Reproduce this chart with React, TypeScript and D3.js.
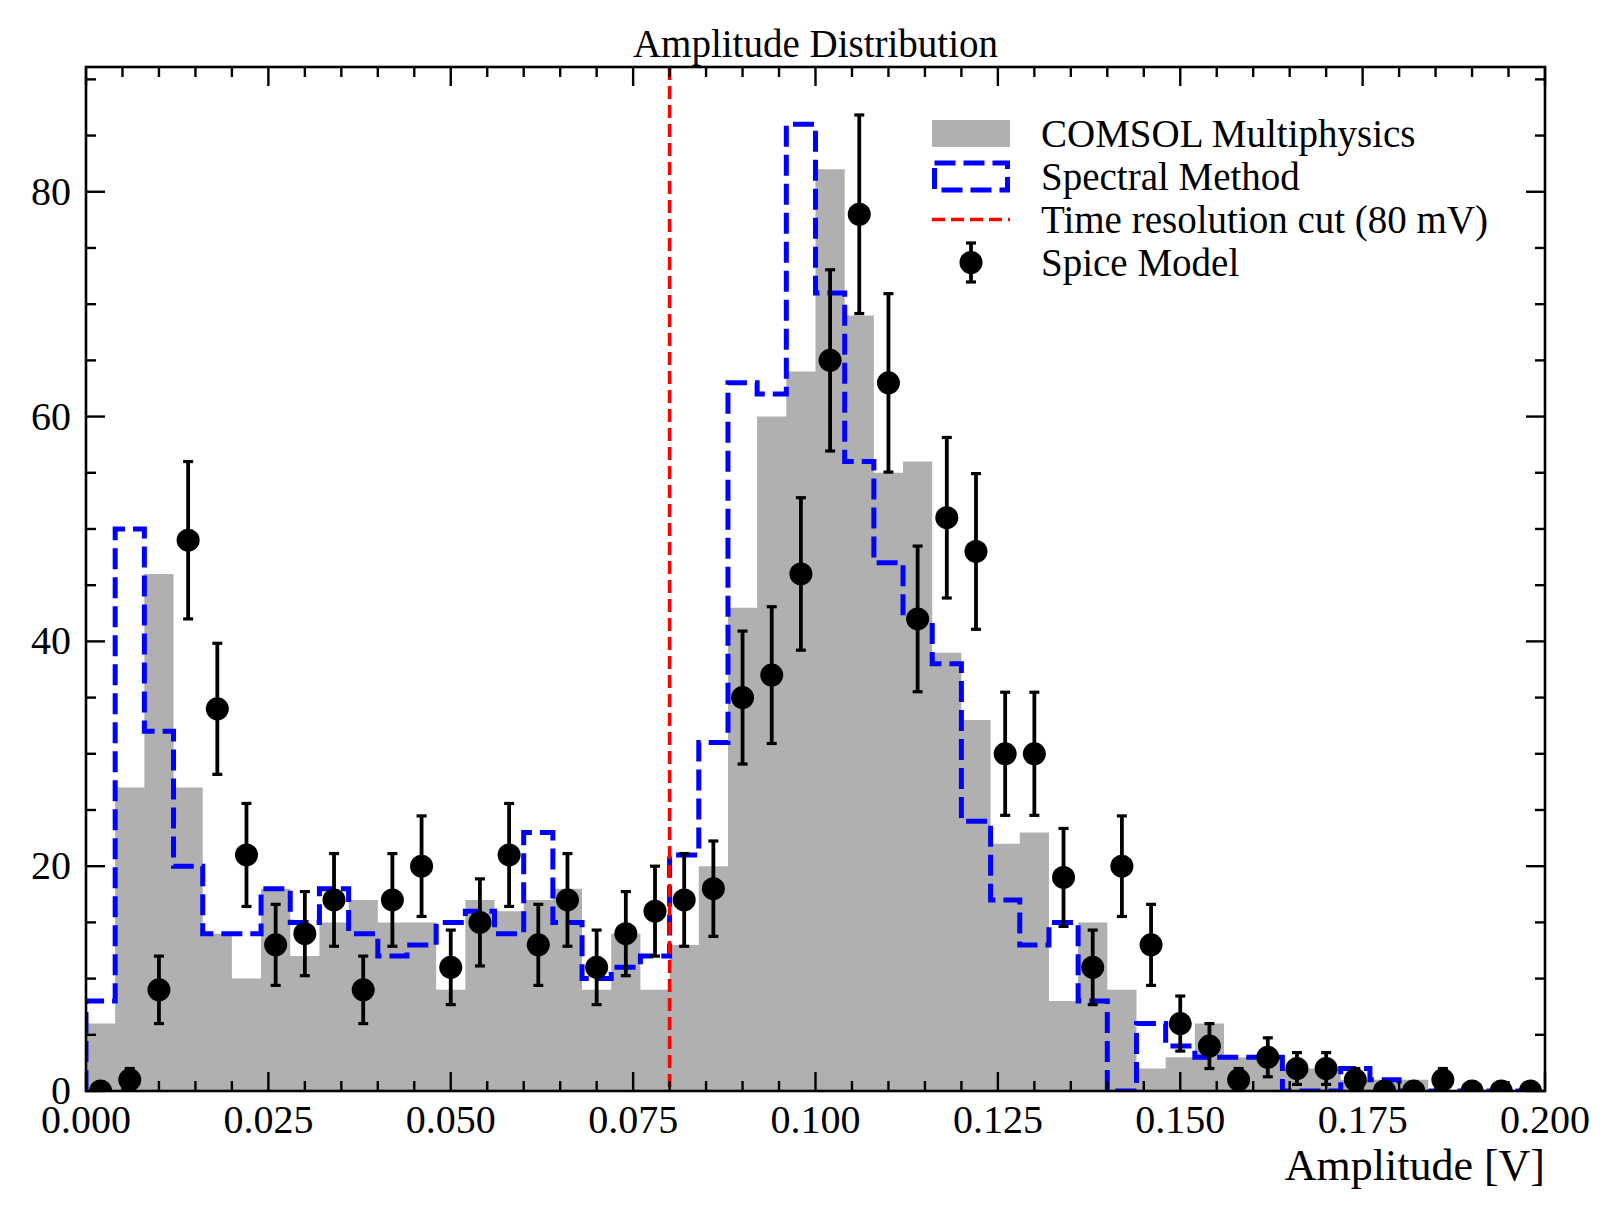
import React from 'react';
import * as d3 from 'd3';

// ---- data ----
const binWidth = 0.004;
const binCount = 50;
const comsolCounts = [
  6, 27, 46, 27, 14, 10, 18, 12, 15, 17,
  15, 15, 9, 17, 16, 17, 18, 9, 14, 9,
  13, 20, 43, 60, 64, 82, 69, 55, 56, 39,
  33, 22, 23, 8, 15, 9, 2, 3, 6, 3,
  3, 2, 2, 1, 1, 1, 0, 0, 0, 0,
];
const spectralCounts = [
  8, 50, 32, 20, 14, 14, 18, 15, 18, 14,
  12, 13, 15, 16, 14, 23, 15, 10, 11, 12,
  21, 31, 63, 62, 86, 71, 56, 47, 42, 38,
  24, 17, 13, 15, 8, 0, 6, 4, 3, 3,
  3, 0, 0, 2, 1, 0, 0, 0, 0, 0,
];
const spiceCounts = [
  0, 1, 9, 49, 34, 21, 13, 14, 17, 9,
  17, 20, 11, 15, 21, 13, 17, 11, 14, 16,
  17, 18, 35, 37, 46, 65, 78, 63, 42, 51,
  48, 30, 30, 19, 11, 20, 13, 6, 4, 1,
  3, 2, 2, 1, 0, 0, 1, 0, 0, 0,
];
const xTicks = [0, 0.025, 0.05, 0.075, 0.1, 0.125, 0.15, 0.175, 0.2];
const xMinorStep = 0.005;
const yTicks = [0, 20, 40, 60, 80];
const yMinorStep = 5;
const xDomain = [0, 0.2];
const yDomain = [0, 91.1];
const cutValue = 0.08;
const titleText = 'Amplitude Distribution';
const xLabelText = 'Amplitude [V]';
const legendLabels = [
  'COMSOL Multiphysics',
  'Spectral Method',
  'Time resolution cut (80 mV)',
  'Spice Model',
];

// ---- layout ----
const W = 1618;
const H = 1218;
const PL = 86;
const PR = 1545;
const PT = 67;
const PB = 1091;
const FONT = '"Liberation Serif", "DejaVu Serif", "Times New Roman", serif';
const GRAY = '#b0b0b0';
const BLUE = '#0000ff';
const RED = '#ff0000';

export default function App() {
  const x = d3.scaleLinear().domain(xDomain).range([PL, PR]);
  const y = d3.scaleLinear().domain(yDomain).range([PB, PT]);

  const edges = d3.range(binCount + 1).map((i) => i * binWidth);
  const centers = d3.range(binCount).map((i) => (i + 0.5) * binWidth);

  // gray filled histogram
  const areaData: [number, number][] = comsolCounts.map((c, i) => [edges[i], c] as [number, number]);
  areaData.push([edges[binCount], comsolCounts[binCount - 1]]);
  const areaGen = d3
    .area<[number, number]>()
    .x((d) => x(d[0]))
    .y0(y(0))
    .y1((d) => y(d[1]))
    .curve(d3.curveStepAfter);
  const comsolPath = areaGen(areaData) || '';

  // blue step outline
  const stepPts: [number, number][] = [[edges[0], 0]];
  spectralCounts.forEach((c, i) => {
    stepPts.push([edges[i], c]);
    stepPts.push([edges[i + 1], c]);
  });
  stepPts.push([edges[binCount], 0]);
  const lineGen = d3
    .line<[number, number]>()
    .x((d) => x(d[0]))
    .y((d) => y(d[1]));
  const spectralPath = lineGen(stepPts) || '';

  // ticks
  const xMinor = d3
    .range(0, xDomain[1] + 1e-9, xMinorStep)
    .filter((v) => !xTicks.some((t) => Math.abs(t - v) < 1e-9));
  const yMinor = d3
    .range(0, yDomain[1], yMinorStep)
    .filter((v) => !yTicks.some((t) => Math.abs(t - v) < 1e-9));
  const fmtX = d3.format('.3f');

  const MAJ = 19;
  const MIN = 10;
  const tickW = 2.4;
  const capHalf = 5;
  const markerR = 11.5;
  const errW = 3.8;
  const blueW = 5;
  const blueDash = '21 8';
  const redW = 3.6;
  const redDash = '13 6';

  // legend
  const lgX0 = 932;
  const lgX1 = 1010;
  const lgTextX = 1041;
  const lgRows = [133.5, 176.5, 219.5, 262.5];
  const lgCx = (lgX0 + lgX1) / 2;

  return (
    <svg
      width={W}
      height={H}
      viewBox={`0 0 ${W} ${H}`}
      style={{ position: 'absolute', left: 0, top: 0, display: 'block', background: '#fff' }}
      fontFamily={FONT}
    >
      <defs>
        <clipPath id="plotClip">
          <rect x={PL} y={PT} width={PR - PL} height={PB - PT} />
        </clipPath>
      </defs>
      <rect x={0} y={0} width={W} height={H} fill="#fff" />

      <g clipPath="url(#plotClip)">
        <path d={comsolPath} fill={GRAY} stroke="none" />
        <path
          d={spectralPath}
          fill="none"
          stroke={BLUE}
          strokeWidth={blueW}
          strokeDasharray={blueDash}
          strokeLinejoin="miter"
        />
        <line
          x1={x(cutValue)}
          x2={x(cutValue)}
          y1={PT}
          y2={PB}
          stroke={RED}
          strokeWidth={redW}
          strokeDasharray={redDash}
        />
        {spiceCounts.map((v, i) => {
          const err = Math.sqrt(v);
          const cx = x(centers[i]);
          return (
            <g key={`pt${i}`}>
              {err > 0 && (
                <g stroke="#000" strokeWidth={errW}>
                  <line x1={cx} x2={cx} y1={y(v - err)} y2={y(v + err)} />
                  <line x1={cx - capHalf} x2={cx + capHalf} y1={y(v - err)} y2={y(v - err)} strokeWidth={3.2} />
                  <line x1={cx - capHalf} x2={cx + capHalf} y1={y(v + err)} y2={y(v + err)} strokeWidth={3.2} />
                </g>
              )}
              <circle cx={cx} cy={y(v)} r={markerR} fill="#000" />
            </g>
          );
        })}
      </g>

      {/* ticks */}
      <g stroke="#000" strokeWidth={tickW}>
        {xTicks.map((t) => (
          <g key={`xt${t}`}>
            <line x1={x(t)} x2={x(t)} y1={PB} y2={PB - MAJ} />
            <line x1={x(t)} x2={x(t)} y1={PT} y2={PT + MAJ} />
          </g>
        ))}
        {xMinor.map((t) => (
          <g key={`xm${t}`}>
            <line x1={x(t)} x2={x(t)} y1={PB} y2={PB - MIN} />
            <line x1={x(t)} x2={x(t)} y1={PT} y2={PT + MIN} />
          </g>
        ))}
        {yTicks.map((t) => (
          <g key={`yt${t}`}>
            <line x1={PL} x2={PL + MAJ} y1={y(t)} y2={y(t)} />
            <line x1={PR} x2={PR - MAJ} y1={y(t)} y2={y(t)} />
          </g>
        ))}
        {yMinor.map((t) => (
          <g key={`ym${t}`}>
            <line x1={PL} x2={PL + MIN} y1={y(t)} y2={y(t)} />
            <line x1={PR} x2={PR - MIN} y1={y(t)} y2={y(t)} />
          </g>
        ))}
      </g>

      {/* frame */}
      <rect x={PL} y={PT} width={PR - PL} height={PB - PT} fill="none" stroke="#000" strokeWidth={2.6} />

      {/* tick labels */}
      <g fontSize={40} fill="#000">
        {xTicks.map((t) => (
          <text key={`xl${t}`} x={x(t)} y={1133} textAnchor="middle">
            {fmtX(t)}
          </text>
        ))}
        {yTicks.map((t) => (
          <text key={`yl${t}`} x={71} y={y(t) + 13} textAnchor="end">
            {t}
          </text>
        ))}
      </g>

      {/* title and axis label */}
      <text x={(PL + PR) / 2} y={57} textAnchor="middle" fontSize={39} fill="#000">
        {titleText}
      </text>
      <text x={PR} y={1180} textAnchor="end" fontSize={44} fill="#000">
        {xLabelText}
      </text>

      {/* legend */}
      <g>
        <rect x={lgX0} y={lgRows[0] - 13.5} width={lgX1 - lgX0} height={27} fill={GRAY} />
        <rect
          x={lgX0 + 2.5}
          y={lgRows[1] - 13.5}
          width={lgX1 - lgX0 - 5}
          height={27}
          fill="none"
          stroke={BLUE}
          strokeWidth={blueW}
          strokeDasharray={blueDash}
        />
        <line x1={lgX0} x2={lgX1} y1={lgRows[2]} y2={lgRows[2]} stroke={RED} strokeWidth={redW} strokeDasharray={redDash} />
        <g stroke="#000">
          <line x1={lgCx} x2={lgCx} y1={lgRows[3] - 19.5} y2={lgRows[3] + 19.5} strokeWidth={errW} />
          <line x1={lgCx - capHalf} x2={lgCx + capHalf} y1={lgRows[3] - 19.5} y2={lgRows[3] - 19.5} strokeWidth={3.2} />
          <line x1={lgCx - capHalf} x2={lgCx + capHalf} y1={lgRows[3] + 19.5} y2={lgRows[3] + 19.5} strokeWidth={3.2} />
        </g>
        <circle cx={lgCx} cy={lgRows[3]} r={markerR} fill="#000" />
        {legendLabels.map((lab, i) => (
          <text key={lab} x={lgTextX} y={lgRows[i] + 13} fontSize={39} fill="#000">
            {lab}
          </text>
        ))}
      </g>
    </svg>
  );
}
